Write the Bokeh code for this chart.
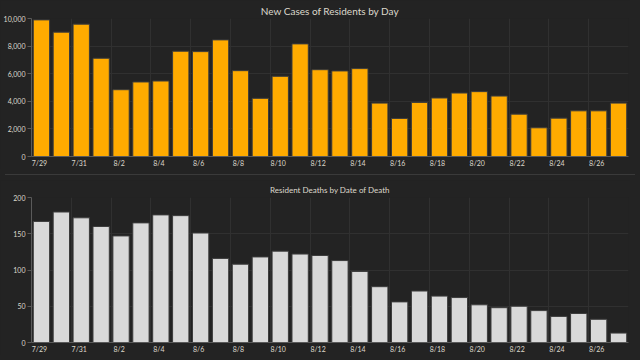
import pandas as pd
from bokeh.plotting import figure
from bokeh.layouts import column
from bokeh.models import FixedTicker, DatetimeTickFormatter, NumeralTickFormatter, Div, Range1d
from bokeh.embed import file_html
from bokeh.resources import INLINE

dates = pd.date_range("2020-07-29", "2020-08-27", freq="D")
cases = [9900, 9010, 9590, 7120, 4840, 5400, 5470, 7630, 7600, 8450,
         6220, 4215, 5810, 8160, 6290, 6200, 6370, 3870, 2760, 3920,
         4240, 4600, 4700, 4380, 3070, 2080, 2780, 3310, 3310, 3870]
deaths = [167, 180, 172, 160, 147, 165, 176, 175, 151, 116,
          108, 118, 126, 122, 120, 113, 98, 77, 56, 71,
          64, 62, 52, 48, 50, 44, 36, 40, 32, 13]
tick_dates = pd.date_range("2020-07-29", "2020-08-26", freq="2D")

BG = "#232323"
TXT = "#ddd8cc"
GRID = "#303030"
DAY = 86400000
FONT = "Lato"

def ms(ts):
    return ts.value // 10**6

def make(title, values, color, ymax, yticks, frame_h, fmt, tsize, tstand, mtop):
    p = figure(width=630, frame_height=frame_h, x_axis_type="datetime",
               output_backend="svg", toolbar_location=None,
               x_range=Range1d(ms(dates[0]), ms(dates[-1]) + DAY),
               y_range=Range1d(0, ymax), title=title,
               background_fill_color=BG, border_fill_color=BG,
               min_border_left=0, min_border_right=2, min_border_top=mtop, min_border_bottom=0)
    p.outline_line_color = None
    p.title.align = "center"
    p.title.text_color = TXT
    p.title.text_font = FONT
    p.title.text_font_style = "normal"
    p.title.text_font_size = tsize
    p.title.standoff = tstand
    p.title.offset = 0
    xs = [ms(d) + DAY // 2 for d in dates]
    p.vbar(x=xs, top=values, width=0.82 * DAY, fill_color=color,
           line_color="#3c3c3c", line_width=1)
    p.xaxis.ticker = FixedTicker(ticks=[ms(d) + int(0.4 * DAY) for d in tick_dates])
    p.xaxis.formatter = DatetimeTickFormatter(days="%-m/%-d", hours="%-m/%-d",
                                              months="%-m/%-d", hourmin="%-m/%-d")
    p.xgrid.ticker = FixedTicker(ticks=[ms(d) for d in tick_dates])
    p.yaxis.ticker = FixedTicker(ticks=yticks)
    p.yaxis.formatter = NumeralTickFormatter(format=fmt)
    for ax in (p.xaxis[0], p.yaxis[0]):
        ax.major_label_text_color = TXT
        ax.major_label_text_font = FONT
        ax.major_label_text_font_size = "7px"
        ax.axis_line_color = "#5a5a5a"
        ax.major_tick_line_color = "#5a5a5a"
        ax.minor_tick_line_color = None
        ax.major_label_standoff = 2
        ax.axis_label_standoff = 0
    p.xaxis.major_tick_out = 0
    p.xaxis.major_tick_in = 0
    p.yaxis.major_tick_out = 4
    p.yaxis.major_tick_in = 0
    p.xgrid.grid_line_color = GRID
    p.ygrid.grid_line_color = GRID
    return p

p1 = make("New Cases of Residents by Day", cases, "#ffab00", 10000,
          [0, 2000, 4000, 6000, 8000, 10000], 138, "0,0", "10px", 4, 0)
p2 = make("Resident Deaths by Date of Death", deaths, "#d9d9d9", 200,
          [0, 50, 100, 150, 200], 145, "0", "8px", 5, 0)
sep = Div(width=630, height=1, styles={"background-color": "#3a3a3a"})
page = column(p1, sep, p2, spacing=0, styles={"background-color": BG})

html = file_html(page, INLINE)
html = html.replace("<body>", '<body style="background-color:#232323">')
open("out.html", "w").write(html)
